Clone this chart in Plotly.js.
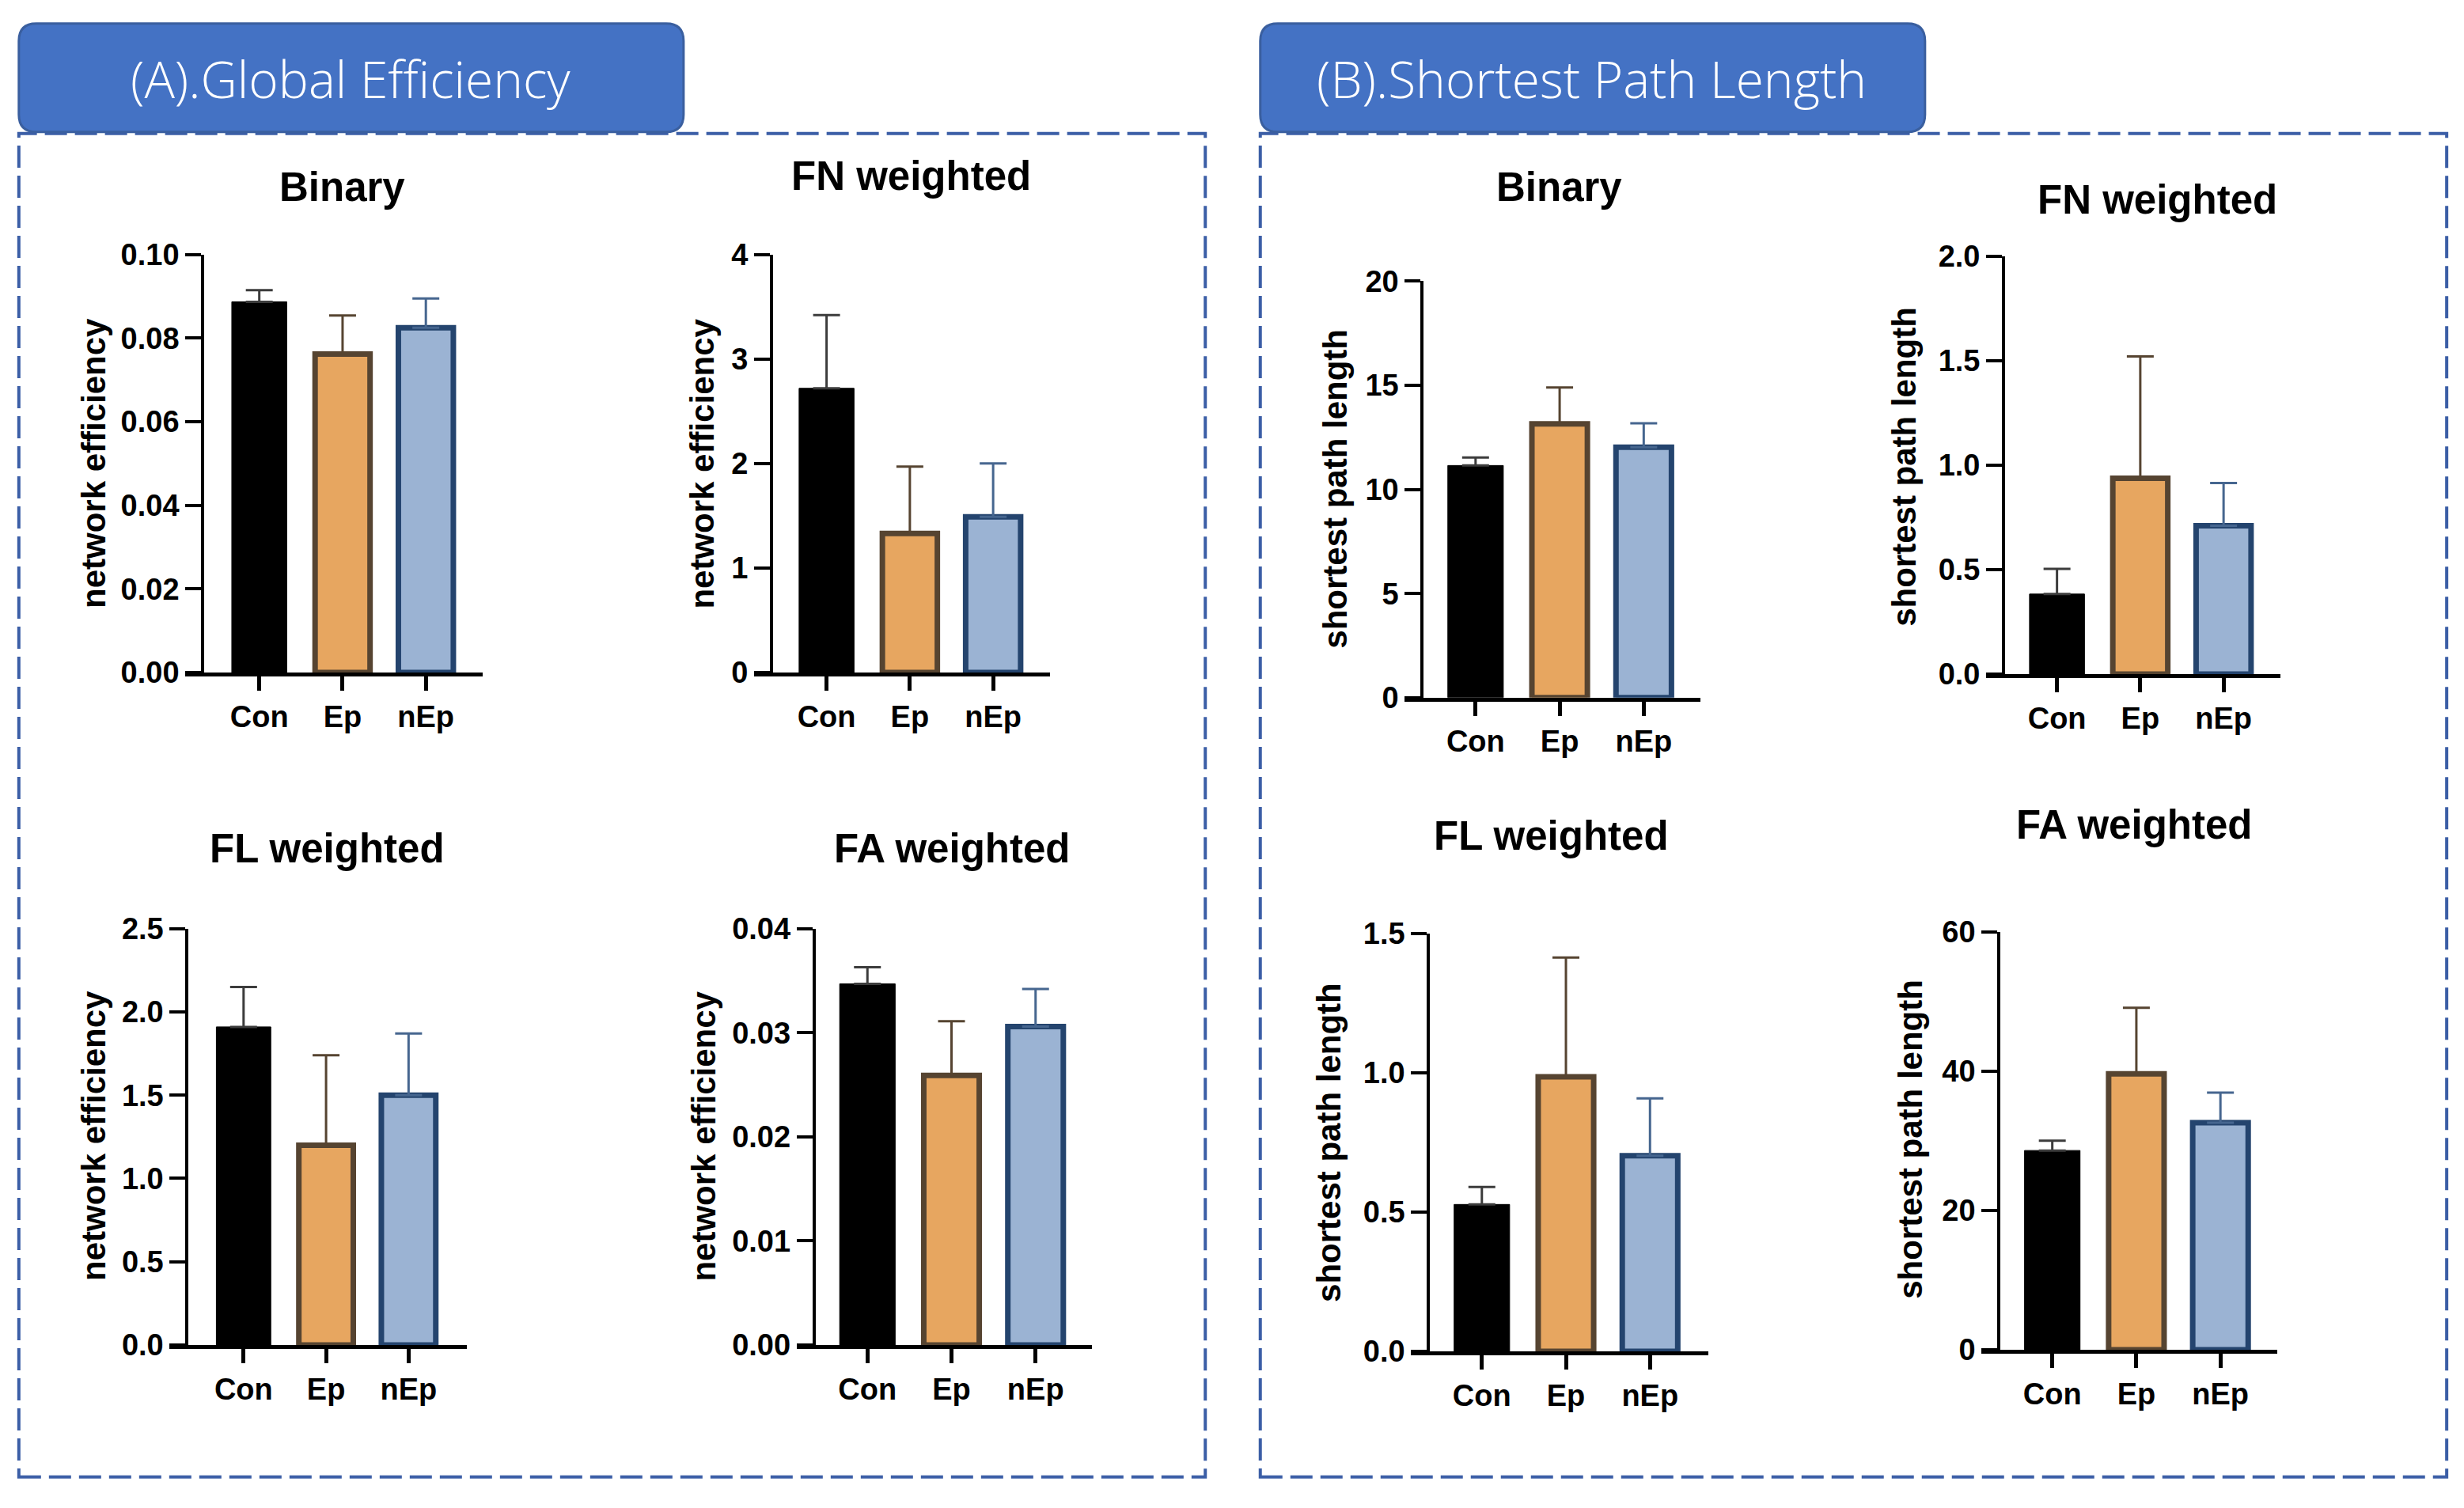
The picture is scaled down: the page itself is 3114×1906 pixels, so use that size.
<!DOCTYPE html>
<html>
<head>
<meta charset="utf-8">
<script src="https://cdn.plot.ly/plotly-3.0.1.min.js"></script>
<style>html,body{margin:0;padding:0;background:#fff;}#chart{width:3114px;height:1906px;}</style>
</head>
<body>
<div id="chart"></div>
<script>
// ---------------- DATA ----------------
const groups = ['Con', 'Ep', 'nEp'];

const panelTitles = ['Binary', 'FN weighted', 'FL weighted', 'FA weighted',
                     'Binary', 'FN weighted', 'FL weighted', 'FA weighted'];
const sectionTitles = ['(A).Global Efficiency', '(B).Shortest Path Length'];
const yTitleA = 'network efficiency';
const yTitleB = 'shortest path length';

// (A) Global efficiency: means and upper SD
const geBinary    = [0.0887, 0.0762, 0.0825];
const geBinaryErr = [0.0028, 0.0092, 0.0070];
const geFN        = [2.72, 1.33, 1.49];
const geFNErr     = [0.70, 0.64, 0.51];
const geFL        = [1.91, 1.20, 1.50];
const geFLErr     = [0.24, 0.54, 0.37];
const geFA        = [0.0347, 0.0259, 0.0306];
const geFAErr     = [0.0016, 0.0052, 0.0036];

// (B) Shortest path length
const splBinary    = [11.15, 13.15, 12.03];
const splBinaryErr = [0.38, 1.75, 1.15];
const splFN        = [0.383, 0.937, 0.71];
const splFNErr     = [0.12, 0.583, 0.204];
const splFL        = [0.527, 0.985, 0.702];
const splFLErr     = [0.063, 0.428, 0.206];
const splFA        = [28.6, 39.6, 32.6];
const splFAErr     = [1.4, 9.5, 4.3];

// y-axis tick values per panel
const ticksGeBinary = [0, 0.02, 0.04, 0.06, 0.08, 0.10];
const ticksGeFN     = [0, 1, 2, 3, 4];
const ticksGeFL     = [0, 0.5, 1.0, 1.5, 2.0, 2.5];
const ticksGeFA     = [0, 0.01, 0.02, 0.03, 0.04];
const ticksSplBinary = [0, 5, 10, 15, 20];
const ticksSplFN     = [0, 0.5, 1.0, 1.5, 2.0];
const ticksSplFL     = [0, 0.5, 1.0, 1.5];
const ticksSplFA     = [0, 20, 40, 60];

// ---------------- STYLE / LAYOUT ----------------
const W = 3114, H = 1906;
const K = 3114 / 1568;   // measurement scale -> full pixels
const fillCol = ['#000000', '#E7A660', '#9BB3D3'];
const lineCol = ['#000000', '#564431', '#24446E'];
const errCol  = ['#3c3c3c', '#564431', '#46668F'];
const FONT = 'Liberation Sans, Arial, sans-serif';

const panels = [
  {v: geBinary, e: geBinaryErr, ticks: ticksGeBinary, fmt: '.2f', yt: yTitleA,
   g: {yAx:129, xl:118, xr:307, t0:165, sp:53, top:162, bot:428, tx:218, ty:119, ytx:60, yty:295}},
  {v: geFN, e: geFNErr, ticks: ticksGeFN, fmt: 'd', yt: yTitleA,
   g: {yAx:491, xl:480, xr:668, t0:526, sp:53, top:162, bot:428, tx:580, ty:112, ytx:447, yty:295}},
  {v: geFL, e: geFLErr, ticks: ticksGeFL, fmt: '.1f', yt: yTitleA,
   g: {yAx:119, xl:108, xr:297, t0:155, sp:52.5, top:591, bot:856, tx:208, ty:540, ytx:60, yty:723}},
  {v: geFA, e: geFAErr, ticks: ticksGeFA, fmt: '.2f', yt: yTitleA,
   g: {yAx:518, xl:507, xr:695, t0:552, sp:53.5, top:591, bot:856, tx:606, ty:540, ytx:448, yty:723}},
  {v: splBinary, e: splBinaryErr, ticks: ticksSplBinary, fmt: 'd', yt: yTitleB,
   g: {yAx:905, xl:894, xr:1082, t0:939, sp:53.5, top:179, bot:444, tx:992, ty:119, ytx:850, yty:311}},
  {v: splFN, e: splFNErr, ticks: ticksSplFN, fmt: '.1f', yt: yTitleB,
   g: {yAx:1275, xl:1264, xr:1451, t0:1309, sp:53, top:163, bot:429, tx:1373, ty:127, ytx:1212, yty:297}},
  {v: splFL, e: splFLErr, ticks: ticksSplFL, fmt: '.1f', yt: yTitleB,
   g: {yAx:909, xl:898, xr:1087, t0:943, sp:53.5, top:594, bot:860, tx:987, ty:532, ytx:846, yty:727}},
  {v: splFA, e: splFAErr, ticks: ticksSplFA, fmt: 'd', yt: yTitleB,
   g: {yAx:1272, xl:1261, xr:1449, t0:1306, sp:53.5, top:593, bot:859, tx:1358, ty:525, ytx:1216, yty:725}}
];

// measurement -> paper coordinates
const px = h => (K * h) / W;
const py = h => 1 - (K * h) / H;

const traces = [];
const layout = {
  width: W, height: H,
  margin: {l: 0, r: 0, t: 0, b: 0},
  paper_bgcolor: '#ffffff', plot_bgcolor: 'rgba(0,0,0,0)',
  showlegend: false,
  barmode: 'overlay',
  font: {family: FONT, color: '#000'},
  annotations: [], shapes: []
};

// frames and headers
const frames = [
  {x0: 12, x1: 767, hx1: 435, text: sectionTitles[0], cx: 223},
  {x0: 802, x1: 1557, hx1: 1225, text: sectionTitles[1], cx: 1013}
];
frames.forEach(f => {
  layout.shapes.push({type: 'rect', xref: 'paper', yref: 'paper',
    x0: px(f.x0), x1: px(f.x1), y0: py(940), y1: py(85),
    line: {color: '#3b5ea6', width: 4, dash: '28px,10px'}, fillcolor: 'rgba(0,0,0,0)'});
  const r = 22, X0 = K * f.x0, X1 = K * f.hx1, Y0 = K * 15, Y1 = K * 84;
  const path = `M${X0 + r},${Y0} L${X1 - r},${Y0} Q${X1},${Y0} ${X1},${Y0 + r} L${X1},${Y1 - r} Q${X1},${Y1} ${X1 - r},${Y1} L${X0 + r},${Y1} Q${X0},${Y1} ${X0},${Y1 - r} L${X0},${Y0 + r} Q${X0},${Y0} ${X0 + r},${Y0} Z`;
  const conv = path.replace(/(-?\d+(?:\.\d+)?),(-?\d+(?:\.\d+)?)/g,
    (m, a, b) => (parseFloat(a) / W).toFixed(5) + ',' + (1 - parseFloat(b) / H).toFixed(5));
  layout.shapes.push({type: 'path', xref: 'paper', yref: 'paper', path: conv,
    fillcolor: '#4472C4', line: {color: '#3a5f9f', width: 3}});
  layout.annotations.push({xref: 'paper', yref: 'paper', x: px(f.cx), y: py(50),
    text: f.text, showarrow: false, xanchor: 'center', yanchor: 'middle',
    font: {family: 'Open Sans, Noto Sans, sans-serif', size: 64, color: '#ffffff', weight: 300}});
});

panels.forEach((p, i) => {
  const n = i + 1;
  const xa = n === 1 ? 'xaxis' : 'xaxis' + n;
  const ya = n === 1 ? 'yaxis' : 'yaxis' + n;
  const xr = n === 1 ? 'x' : 'x' + n;
  const yr = n === 1 ? 'y' : 'y' + n;
  const g = p.g;
  const ymax = p.ticks[p.ticks.length - 1];

  groups.forEach((grp, k) => {
    traces.push({
      type: 'bar', x: [k], y: [p.v[k]], width: 0.66,
      xaxis: xr, yaxis: yr,
      marker: {color: fillCol[k], line: {color: lineCol[k], width: k === 0 ? 1 : 7}},
      error_y: {type: 'data', symmetric: false, array: [p.e[k]], arrayminus: [0],
        color: errCol[k], thickness: 3, width: 17},
      hoverinfo: 'skip'
    });
  });

  layout[xa] = {
    domain: [px(g.xl), px(g.xr)], anchor: yr,
    range: [(g.xl - g.t0) / g.sp, (g.xr - g.t0) / g.sp],
    tickmode: 'array', tickvals: [0, 1, 2], ticktext: groups,
    showline: true, linecolor: '#000', linewidth: 5,
    ticks: 'outside', ticklen: 18, tickwidth: 5, tickcolor: '#000',
    tickfont: {family: FONT, size: 38, weight: 700, color: '#000'},
    showgrid: false, zeroline: false, fixedrange: true
  };
  layout[ya] = {
    domain: [py(g.bot), py(g.top)], anchor: 'free', position: px(g.yAx),
    range: [0, ymax], tickmode: 'array', tickvals: p.ticks,
    tickformat: p.fmt,
    showline: true, linecolor: '#000', linewidth: 4,
    ticks: 'outside', ticklen: 20, tickwidth: 4, tickcolor: '#000',
    tickfont: {family: FONT, size: 38, weight: 700, color: '#000'},
    showgrid: false, zeroline: false, fixedrange: true
  };

  layout.annotations.push({xref: 'paper', yref: 'paper', x: px(g.tx), y: py(g.ty),
    text: panelTitles[i], showarrow: false, xanchor: 'center', yanchor: 'middle',
    font: {family: FONT, size: 51, weight: 700, color: '#000'}});
  layout.annotations.push({xref: 'paper', yref: 'paper', x: px(g.ytx), y: py(g.yty),
    text: p.yt, showarrow: false, textangle: -90, xanchor: 'center', yanchor: 'middle',
    font: {family: FONT, size: 42, weight: 700, color: '#000'}});
});

Plotly.newPlot('chart', traces, layout, {staticPlot: true, displayModeBar: false});
</script>
</body>
</html>
